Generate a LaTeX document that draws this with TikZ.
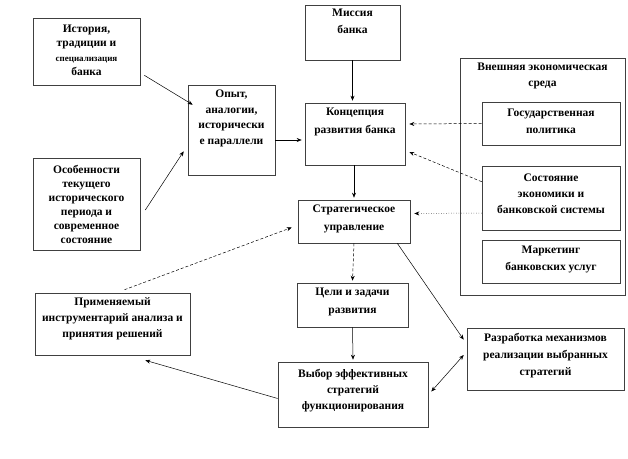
\documentclass[tikz,border=0pt]{standalone}
\usepackage{fontspec}
\setmainfont{Liberation Serif}
\usetikzlibrary{arrows.meta,calc}
\begin{document}
\begin{tikzpicture}[x=1pt,y=-1pt,
  box/.style={draw=black!75, line width=0.6pt, rectangle, inner sep=0pt},
  txt/.style={font=\bfseries\fontsize{11.5}{14}\selectfont, align=center, inner sep=0pt, anchor=north},
  conn/.style={line width=0.5pt, -{Stealth[length=5pt,width=4pt]}},
  dconn/.style={conn, dashed, dash pattern=on 3pt off 2pt},
  oconn/.style={conn, dotted}]
\useasboundingbox (0,0) rectangle (628,458);
% boxes
\node[box, minimum width=107pt, minimum height=67pt] (b1) at (86.5,51.5) {};
\node[txt, font=\bfseries\fontsize{11.5}{14.5}\selectfont] (t1) at ($(b1.north)+(0,7)$) {История,\\традиции и\\{\fontsize{9}{10}\selectfont специализация}\\банка};
\node[box, minimum width=107pt, minimum height=92pt] (b2) at (86.5,204) {};
\node[txt] (t2) at ($(b2.north)+(0,7)$) {Особенности\\текущего\\исторического\\периода и\\современное\\состояние};
\node[box, minimum width=87pt, minimum height=90pt] (b3) at (231.5,130) {};
\node[txt, font=\bfseries\fontsize{11.5}{15.5}\selectfont] (t3) at ($(b3.north)+(0,5)$) {Опыт,\\аналогии,\\исторически\\е параллели};
\node[box, minimum width=95pt, minimum height=55pt] (b4) at (352.5,32.5) {};
\node[txt, font=\bfseries\fontsize{11.5}{17}\selectfont] (t4) at ($(b4.north)+(0,4)$) {Миссия\\банка};
\node[box, minimum width=100pt, minimum height=62pt] (b5) at (355,134) {};
\node[txt, font=\bfseries\fontsize{11.5}{18}\selectfont] (t5) at ($(b5.north)+(0,5)$) {Концепция\\развития банка};
\node[box, minimum width=165pt, minimum height=237pt] (env) at (542.5,176.5) {};
\node[txt, font=\bfseries\fontsize{11.5}{16}\selectfont] (tenv) at ($(env.north)+(0,5)$) {Внешняя экономическая\\среда};
\node[box, minimum width=138pt, minimum height=43pt] (b7) at (551,123.5) {};
\node[txt, font=\bfseries\fontsize{11.5}{17}\selectfont] (t7) at ($(b7.north)+(0,7)$) {Государственная\\политика};
\node[box, minimum width=138pt, minimum height=64pt] (b8) at (551,198) {};
\node[txt, font=\bfseries\fontsize{11.5}{16}\selectfont] (t8) at ($(b8.north)+(0,8)$) {Состояние\\экономики и\\банковской системы};
\node[box, minimum width=138pt, minimum height=43pt] (b9) at (551,261.5) {};
\node[txt, font=\bfseries\fontsize{11.5}{17}\selectfont] (t9) at ($(b9.north)+(0,6)$) {Маркетинг\\банковских услуг};
\node[box, minimum width=112pt, minimum height=43pt] (b10) at (354,221.5) {};
\node[txt, font=\bfseries\fontsize{11.5}{18}\selectfont] (t10) at ($(b10.north)+(0,5)$) {Стратегическое\\управление};
\node[box, minimum width=111pt, minimum height=44pt] (b11) at (352.5,305) {};
\node[txt, font=\bfseries\fontsize{11.5}{18}\selectfont] (t11) at ($(b11.north)+(0,5)$) {Цели и задачи\\развития};
\node[box, minimum width=155pt, minimum height=62pt] (b12) at (112.5,324) {};
\node[txt, font=\bfseries\fontsize{11.5}{16}\selectfont] (t12) at ($(b12.north)+(0,5)$) {Применяемый\\инструментарий анализа и\\принятия решений};
\node[box, minimum width=150pt, minimum height=65pt] (b13) at (353,394.5) {};
\node[txt, font=\bfseries\fontsize{11.5}{16}\selectfont] (t13) at ($(b13.north)+(0,7)$) {Выбор эффективных\\стратегий\\функционирования};
\node[box, minimum width=157pt, minimum height=62pt] (b14) at (545.5,359) {};
\node[txt, font=\bfseries\fontsize{11.5}{17}\selectfont] (t14) at ($(b14.north)+(0,5)$) {Разработка механизмов\\реализации выбранных\\стратегий};
% connectors
\draw[conn] ($(b1.south east)+(4,-10)$) -- ($(b3.north west)+(5,20)$);
\draw[conn] ($(b2.east)+(5,6)$) -- ($(b3.south west)+(-4,-24)$);
\draw[conn] ($(b3.east)+(0,10)$) -- ($(b5.west)+(-3,6)$);
\draw[conn] (b4.south) -- ($(b4.south)!1!(b4.south|-b5.north)+(0,-2)$);
\draw[dconn] (b7.west) -- ($(b5.east)+(4,-10)$);
\draw[dconn] ($(b8.north west)+(0,16)$) -- ($(b5.east)+(4,18)$);
\draw[oconn] ($(b8.west)+(0,15)$) -- ($(b10.east)+(4,-8)$);
\draw[conn] (b5.south -| b10.north) -- ($(b10.north)+(0,-2)$);
\draw[dconn] (b10.south) -- ($(b11.north)+(0,-2)$);
\draw[conn] ($(b10.south east)+(-13,0)$) -- ($(b14.north west)+(-3,12)$);
\draw[conn] (b11.south) -- ($(b13.north)+(0,-2)$);
\draw[dconn] ($(b12.north)+(12,-3)$) -- ($(b10.west)+(-6,6)$);
\draw[conn] ($(b13.west)+(0,4)$) -- ($(b12.south east)+(-45,5)$);
\draw[line width=0.5pt, {Stealth[length=5pt,width=4pt]}-{Stealth[length=5pt,width=4pt]}] ($(b13.east)+(3,-3)$) -- ($(b14.west)+(-3,-4)$);
\end{tikzpicture}
\end{document}
